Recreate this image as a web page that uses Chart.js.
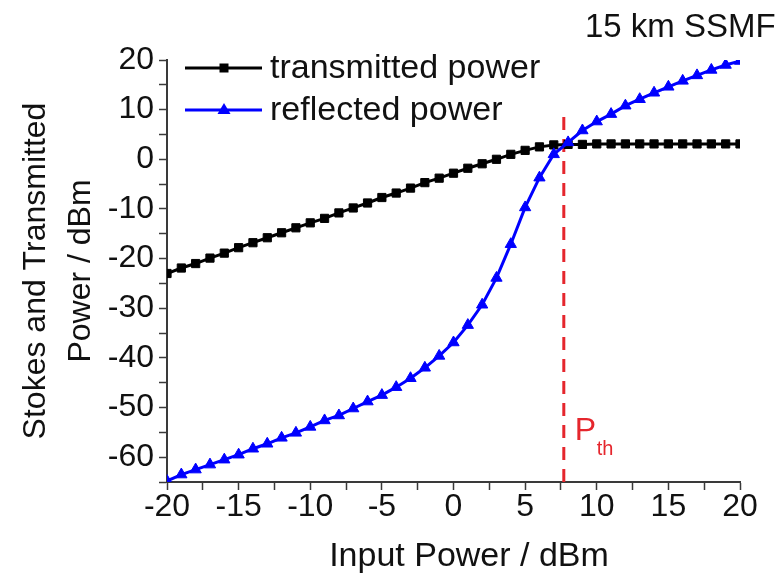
<!DOCTYPE html>
<html>
<head>
<meta charset="utf-8">
<script src="https://cdn.jsdelivr.net/npm/chart.js@4.4.1/dist/chart.umd.min.js"></script>
<style>
  html, body { margin: 0; padding: 0; background: #fff; }
</style>
</head>
<body>
<canvas id="sbsChart" width="783" height="576"></canvas>
<script>
// input power sweep (dBm)
const inputPower = [
  -20, -19, -18, -17, -16, -15, -14, -13, -12, -11,
  -10, -9, -8, -7, -6, -5, -4, -3, -2, -1,
  0, 1, 2, 3, 4, 5, 6, 7, 8, 9,
  10, 11, 12, 13, 14, 15, 16, 17, 18, 19, 20
];

// transmitted power after 15 km SSMF (dBm)
const transmittedPower = [
  -23.0, -21.9, -21.0, -19.9, -18.9, -17.8, -16.8, -15.8, -14.8, -13.8,
  -12.8, -11.9, -10.8, -9.8, -8.8, -7.7, -6.8, -5.8, -4.7, -3.8,
  -2.8, -1.8, -0.9, 0.0, 1.0, 1.8, 2.5, 2.9, 3.0, 3.0,
  3.1, 3.1, 3.1, 3.1, 3.1, 3.1, 3.1, 3.1, 3.1, 3.1, 3.1
];

// backscattered Stokes power (dBm)
const reflectedPower = [
  -64.8, -63.5, -62.5, -61.5, -60.5, -59.5, -58.3, -57.3, -56.1, -55.1,
  -53.9, -52.6, -51.6, -50.2, -48.8, -47.5, -45.9, -44.1, -42.0, -39.6,
  -36.9, -33.4, -29.3, -23.9, -17.1, -9.7, -3.7, 1.0, 3.4, 5.8,
  7.6, 9.1, 10.8, 12.1, 13.4, 14.6, 15.8, 16.9, 18.0, 19.0, 19.8
];

// SBS threshold marker
const thresholdPower = 7.7;
const thresholdSpan = [-65, 8.5];

const seriesNames = ['transmitted power', 'reflected power'];
const axisTitleX = 'Input Power / dBm';
const axisTitleY = ['Stokes and Transmitted', 'Power / dBm'];
const fiberLabel = '15 km SSMF';

const FONT = "'Liberation Sans', Arial, Helvetica, sans-serif";
const BLUE = '#0000ff';
const RED = '#e5262d';
const AXIS = '#3a3a3a';

Chart.defaults.font.family = FONT;
Chart.defaults.color = '#111';

const toPoints = (xs, ys) => xs.map((x, i) => ({ x: x, y: ys[i] }));

// legend, x title and the text labels around the plot
const extraText = {
  id: 'extraText',
  afterDraw(chart) {
    const ctx = chart.ctx;
    ctx.save();

    // legend rows
    const rows = [
      { y: 68, color: '#000', style: 'rect', text: seriesNames[0] },
      { y: 110, color: BLUE, style: 'triangle', text: seriesNames[1] }
    ];
    rows.forEach(r => {
      ctx.strokeStyle = r.color;
      ctx.fillStyle = r.color;
      ctx.lineWidth = 3;
      ctx.beginPath();
      ctx.moveTo(185, r.y);
      ctx.lineTo(262, r.y);
      ctx.stroke();
      ctx.beginPath();
      if (r.style === 'rect') {
        ctx.rect(224 - 4.5, r.y - 4.5, 9, 9);
      } else {
        ctx.moveTo(224, r.y - 7);
        ctx.lineTo(230.5, r.y + 4);
        ctx.lineTo(217.5, r.y + 4);
        ctx.closePath();
      }
      ctx.fill();
      ctx.fillStyle = '#111';
      ctx.font = '34px ' + FONT;
      ctx.textAlign = 'left';
      ctx.textBaseline = 'middle';
      ctx.fillText(r.text, 270, r.y + 1);
    });

    // fibre length
    ctx.fillStyle = '#111';
    ctx.font = '33px ' + FONT;
    ctx.textAlign = 'left';
    ctx.textBaseline = 'alphabetic';
    ctx.fillText(fiberLabel, 585, 37);

    // x axis title
    ctx.font = '34px ' + FONT;
    ctx.textAlign = 'center';
    ctx.fillText(axisTitleX, 469, 566);

    // threshold label P_th
    const px = chart.scales.x.getPixelForValue(thresholdPower);
    ctx.fillStyle = RED;
    ctx.textAlign = 'left';
    ctx.font = '32px ' + FONT;
    ctx.fillText('P', px + 11, 440);
    ctx.font = '20px ' + FONT;
    ctx.fillText('th', px + 33, 455);

    ctx.restore();
  }
};

new Chart(document.getElementById('sbsChart'), {
  type: 'line',
  data: {
    datasets: [
      {
        label: seriesNames[0],
        data: toPoints(inputPower, transmittedPower),
        borderColor: '#000',
        backgroundColor: '#000',
        borderWidth: 3,
        pointStyle: 'rect',
        pointRadius: 5.8,
        pointBorderWidth: 1,
        order: 2
      },
      {
        label: seriesNames[1],
        data: toPoints(inputPower, reflectedPower),
        borderColor: BLUE,
        backgroundColor: BLUE,
        borderWidth: 3,
        pointStyle: 'triangle',
        pointRadius: 6.5,
        pointBorderWidth: 1,
        order: 1
      },
      {
        label: 'Pth',
        data: toPoints([thresholdPower, thresholdPower], thresholdSpan),
        borderColor: RED,
        borderWidth: 3,
        borderDash: [13, 9],
        pointRadius: 0,
        order: 3
      }
    ]
  },
  options: {
    responsive: false,
    animation: false,
    layout: {
      padding: { top: 60, right: 43, left: 0, bottom: 0 }
    },
    plugins: {
      legend: { display: false },
      tooltip: { enabled: false }
    },
    scales: {
      x: {
        type: 'linear',
        min: -20,
        max: 20,
        border: { display: true, color: AXIS, width: 2 },
        grid: {
          display: true,
          drawOnChartArea: false,
          drawTicks: true,
          tickLength: 8,
          tickWidth: 1.5,
          color: AXIS
        },
        ticks: {
          stepSize: 2.5,
          autoSkip: false,
          maxRotation: 0,
          padding: -2,
          color: '#111',
          font: { size: 32 },
          callback: v => (v % 5 === 0 ? String(v) : '')
        },
        afterFit(scale) { scale.height = 94; }
      },
      y: {
        min: -65,
        max: 20,
        border: { display: true, color: AXIS, width: 2 },
        grid: {
          display: true,
          drawOnChartArea: false,
          drawTicks: true,
          tickLength: 8,
          tickWidth: 1.5,
          color: AXIS
        },
        ticks: {
          stepSize: 5,
          autoSkip: false,
          padding: 5,
          color: '#111',
          font: { size: 32 },
          callback: v => (v % 10 === 0 ? String(v) : '')
        },
        title: {
          display: true,
          text: axisTitleY,
          color: '#111',
          font: { size: 32, lineHeight: 1.4 },
          padding: { top: 14, bottom: 0 }
        },
        afterFit(scale) { scale.width = 167; }
      }
    }
  },
  plugins: [extraText]
});
</script>
</body>
</html>
